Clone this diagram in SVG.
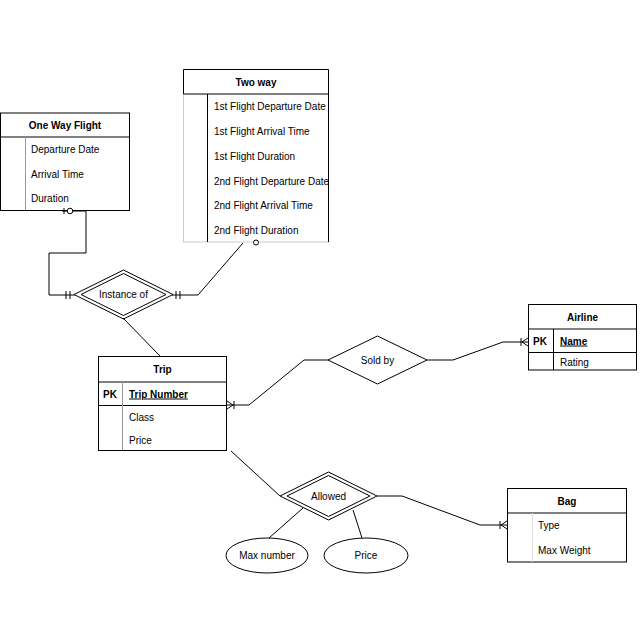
<svg xmlns="http://www.w3.org/2000/svg" width="640" height="640" viewBox="0 0 640 640">
<style>
text{font-family:"Liberation Sans",Arial,sans-serif;font-size:10px;fill:#000}
.h{font-weight:bold;text-anchor:middle}
.b{font-weight:bold}
.u{text-decoration:underline}
.box{fill:#fff;stroke:#000;stroke-width:1}
.ln{fill:none;stroke:#000;stroke-width:1}
.dv{fill:none;stroke:#999;stroke-width:1}
.c{text-anchor:middle}
</style>
<rect width="640" height="640" fill="#fff"/>
<g id="one-way-flight">
<rect class="box" x="0.5" y="113" width="129" height="97.5"/>
<line class="ln" x1="0" y1="137" x2="129.5" y2="137"/>
<line class="dv" x1="25.5" y1="137" x2="25.5" y2="210"/>
<text class="h" x="65" y="128.5">One Way Flight</text>
<text x="31" y="152.5">Departure Date</text>
<text x="31" y="177.5">Arrival Time</text>
<text x="31" y="201.5">Duration</text>
</g>
<g id="two-way">
<rect x="183.5" y="69.5" width="145" height="172.5" fill="#fff" stroke="#ccc"/>
<path class="ln" d="M183.5,94 V69.5 H328.5 V242"/>
<line class="ln" x1="183.5" y1="94" x2="328.5" y2="94"/>
<line class="ln" x1="207.5" y1="94" x2="207.5" y2="242"/>
<text class="h" x="256" y="85.5">Two way</text>
<text x="214" y="109.5">1st Flight Departure Date</text>
<text x="214" y="134.5">1st Flight Arrival Time</text>
<text x="214" y="159.5">1st Flight Duration</text>
<text x="214" y="184.5">2nd Flight Departure Date</text>
<text x="214" y="208.5">2nd Flight Arrival Time</text>
<text x="214" y="233.5">2nd Flight Duration</text>
</g>
<g id="instance-of">
<polygon class="ln" points="123.5,270 173,294.5 123.5,319 74,294.5" fill="#fff"/>
<polygon class="ln" points="123.5,273.5 166,294.5 123.5,315.5 81,294.5"/>
<text class="c" x="123.5" y="298">Instance of</text>
</g>
<g id="trip">
<rect class="box" x="98.5" y="356.5" width="128" height="94"/>
<line class="ln" x1="98.5" y1="382" x2="226.5" y2="382"/>
<line class="ln" x1="98.5" y1="405.5" x2="226.5" y2="405.5"/>
<line class="dv" x1="122.5" y1="382" x2="122.5" y2="450"/>
<text class="h" x="162.5" y="372.5">Trip</text>
<text class="b" x="103" y="397.5">PK</text>
<text class="b u" x="129" y="397.5">Trip Number</text>
<text x="129" y="420.5">Class</text>
<text x="129" y="443.5">Price</text>
</g>
<g id="sold-by">
<polygon class="ln" points="377.5,336 427,360 377.5,384 328,360" fill="#fff"/>
<text class="c" x="377.5" y="363.5">Sold by</text>
</g>
<g id="airline">
<rect class="box" x="528.5" y="304.5" width="108" height="65.5"/>
<line class="ln" x1="528.5" y1="329" x2="636.5" y2="329"/>
<line class="ln" x1="528.5" y1="352.5" x2="636.5" y2="352.5"/>
<line class="ln" x1="553.5" y1="329" x2="553.5" y2="370"/>
<text class="h" x="582.5" y="320.5">Airline</text>
<text class="b" x="533" y="344.5">PK</text>
<text class="b u" x="560" y="344.5">Name</text>
<text x="560" y="365.5">Rating</text>
</g>
<g id="allowed">
<polygon class="ln" points="328.5,472 377,496 328.5,520 280,496" fill="#fff"/>
<polygon class="ln" points="328.5,475.5 370,496 328.5,516.5 287,496"/>
<text class="c" x="328.5" y="499.5">Allowed</text>
</g>
<g id="bag">
<rect class="box" x="507.5" y="488.5" width="119" height="73.5"/>
<line class="ln" x1="507.5" y1="513" x2="626.5" y2="513"/>
<line x1="532.5" y1="513" x2="532.5" y2="562" stroke="#ddd"/>
<text class="h" x="567" y="504.5">Bag</text>
<text x="538" y="528.5">Type</text>
<text x="538" y="553.5">Max Weight</text>
</g>
<g id="max-number">
<ellipse class="box" cx="267" cy="555.5" rx="41" ry="17.5"/>
<text class="c" x="267" y="559">Max number</text>
</g>
<g id="price">
<ellipse class="box" cx="366" cy="555.5" rx="42" ry="17.5"/>
<text class="c" x="366" y="559">Price</text>
</g>
<g id="connectors">
<path class="ln" d="M86,211 V253 H49 V295 H75"/>
<path class="ln" d="M62,211 H86 M64,208 V214"/>
<circle cx="70" cy="211" r="2.8" fill="#fff" stroke="#000"/>
<path class="ln" d="M66,291 V299 M70,291 V299"/>
<path class="ln" d="M172,295 H198 L243,243"/>
<path class="ln" d="M176,291 V299 M180,291 V299"/>
<circle cx="256" cy="242.5" r="2.5" fill="#fff" stroke="#000"/>
<path class="ln" d="M123,318 L160,356"/>
<path class="ln" d="M227,405 H249 L304,360 H328"/>
<path class="ln" d="M227,401 L233,405 L227,409 M234,401 V409"/>
<path class="ln" d="M427,360 H453 L503,342 H528"/>
<path class="ln" d="M528,338 L522,342 L528,346 M521,338 V346"/>
<path class="ln" d="M231,451 L280,496"/>
<path class="ln" d="M377,496 H402 L480,525 H507"/>
<path class="ln" d="M507,521 L501,525 L507,529 M500,521 V529"/>
<path class="ln" d="M269,538 L303,508"/>
<path class="ln" d="M362,538 L353,510"/>
</g>
</svg>
